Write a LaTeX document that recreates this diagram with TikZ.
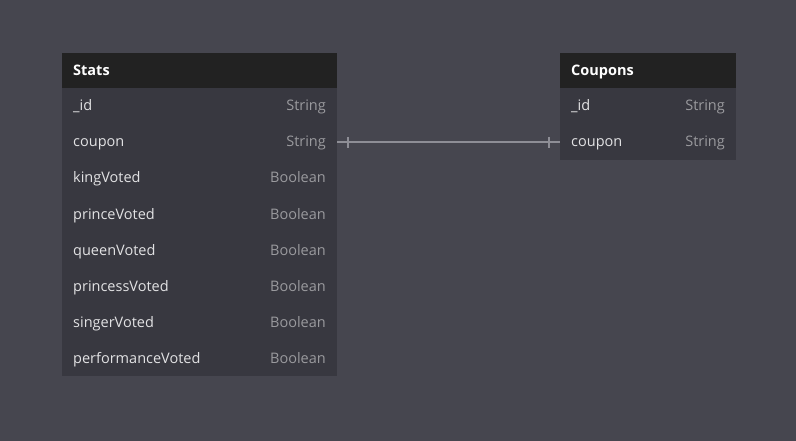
\documentclass[tikz,border=0pt]{standalone}
\usepackage{fontspec}
\setmainfont{Open Sans}
\definecolor{bg}{HTML}{46464F}
\definecolor{hdr}{HTML}{222222}
\definecolor{rowbg}{HTML}{383840}
\definecolor{fname}{HTML}{E2E2E4}
\definecolor{ftype}{HTML}{9A9A9E}
\definecolor{conn}{HTML}{8E8E96}
\begin{document}
\begin{tikzpicture}[x=1pt,y=-1pt,
  hdrtext/.style={anchor=base west,text=white,font=\fontsize{14.5}{17}\selectfont\bfseries,inner sep=0pt},
  nametext/.style={anchor=base west,text=fname,font=\fontsize{14.5}{17}\selectfont,inner sep=0pt},
  typetext/.style={anchor=base east,text=ftype,font=\fontsize{14.5}{17}\selectfont,inner sep=0pt},
  connline/.style={draw=conn,line width=1.5pt},
  tick/.style={draw=conn,line width=1.2pt}]
\fill[bg] (0,0) rectangle (796,441);
\useasboundingbox (0,0) rectangle (796,441);
% Stats table
\fill[rowbg] (62,88) rectangle (337,376);
\fill[hdr] (62,53) rectangle (337,88);
\node[hdrtext] (statsh) at (73,75.5) {Stats};
\foreach \n/\t [count=\i] in {\_id/String,coupon/String,kingVoted/Boolean,princeVoted/Boolean,queenVoted/Boolean,princessVoted/Boolean,singerVoted/Boolean,performanceVoted/Boolean}{
  \node[nametext] (sn\i) at (73,{88+36*\i-13}) {\n};
  \node[typetext] (st\i) at (326,{88+36*\i-13}) {\t};
}
% Coupons table
\fill[rowbg] (560,88) rectangle (736,160);
\fill[hdr] (560,53) rectangle (736,88);
\node[hdrtext] (couph) at (571,75.5) {Coupons};
\foreach \n/\t [count=\i] in {\_id/String,coupon/String}{
  \node[nametext] (cn\i) at (571,{88+36*\i-13}) {\n};
  \node[typetext] (ct\i) at (725,{88+36*\i-13}) {\t};
}
% connector
\coordinate (a) at (337,142);
\coordinate (b) at (560,142);
\draw[connline] (a) -- (b);
\draw[tick] (348,137) -- (348,148);
\draw[tick] (549,137) -- (549,148);
\end{tikzpicture}
\end{document}
